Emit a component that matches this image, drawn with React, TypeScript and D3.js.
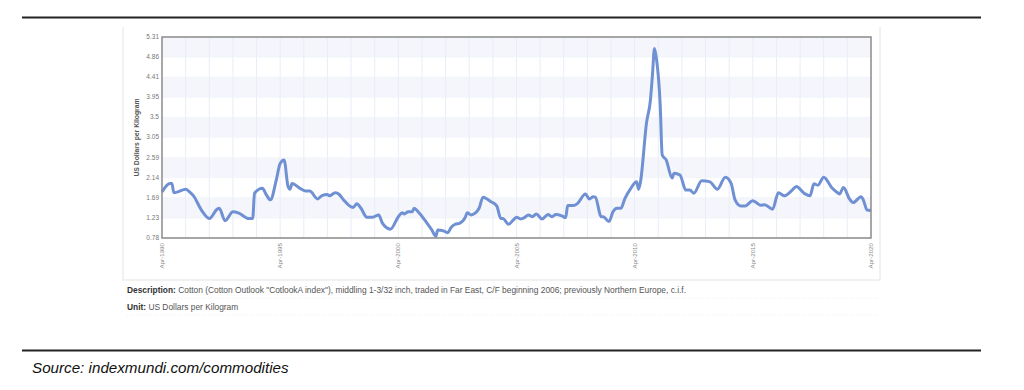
import React from 'react';
import * as d3 from 'd3';

// Cotton A index, US$/kg
const months = [
  '1990-04', '1990-08', '1990-09', '1990-10', '1990-12', '1991-04', '1991-06', '1991-08', '1991-12',
  '1992-04', '1992-08', '1992-09', '1992-12', '1993-04', '1993-07', '1993-12', '1994-02', '1994-03',
  '1994-07', '1994-09', '1994-11', '1995-02', '1995-04', '1995-06', '1995-08', '1995-09', '1995-10',
  '1996-02', '1996-05', '1996-07', '1996-11', '1997-01', '1997-04', '1997-05', '1997-08', '1997-10',
  '1997-12', '1998-05', '1998-07', '1998-09', '1998-12', '1999-03', '1999-06', '1999-08', '1999-12',
  '2000-04', '2000-06', '2000-07', '2000-09', '2000-11', '2000-12', '2001-02', '2001-06', '2001-09',
  '2001-11', '2001-12', '2002-03', '2002-05', '2002-07', '2002-09', '2002-11', '2003-02', '2003-03',
  '2003-05', '2003-07', '2003-09', '2003-11', '2004-01', '2004-03', '2004-06', '2004-08', '2004-09',
  '2004-12', '2005-02', '2005-04', '2005-06', '2005-08', '2005-10', '2005-12', '2006-02', '2006-05',
  '2006-08', '2006-10', '2006-12', '2007-03', '2007-05', '2007-06', '2007-09', '2007-11', '2008-03',
  '2008-05', '2008-07', '2008-08', '2008-11', '2008-12', '2009-03', '2009-05', '2009-07', '2009-09',
  '2009-11', '2010-02', '2010-05', '2010-06', '2010-07', '2010-10', '2010-12', '2011-01', '2011-02',
  '2011-03', '2011-05', '2011-06', '2011-08', '2011-11', '2011-12', '2012-03', '2012-06', '2012-08',
  '2012-10', '2013-02', '2013-06', '2013-10', '2014-02', '2014-05', '2014-07', '2014-10', '2014-12',
  '2015-04', '2015-08', '2015-10', '2016-02', '2016-05', '2016-08', '2016-12', '2017-02', '2017-06',
  '2017-09', '2017-11', '2018-01', '2018-04', '2018-08', '2018-11', '2018-12', '2019-02', '2019-05',
  '2019-07', '2019-11', '2019-12', '2020-02', '2020-04',
];

const prices = [
  1.82, 2.01, 2.01, 1.80, 1.82, 1.88, 1.82, 1.73, 1.41,
  1.22, 1.43, 1.45, 1.17, 1.37, 1.34, 1.22, 1.22, 1.79,
  1.90, 1.75, 1.64, 2.09, 2.46, 2.54, 1.94, 1.88, 2.01,
  1.90, 1.84, 1.84, 1.66, 1.73, 1.76, 1.73, 1.80, 1.76,
  1.65, 1.47, 1.55, 1.45, 1.25, 1.25, 1.30, 1.11, 0.98,
  1.26, 1.35, 1.32, 1.37, 1.37, 1.45, 1.37, 1.15, 0.96,
  0.82, 0.96, 0.94, 0.90, 1.03, 1.09, 1.11, 1.25, 1.35,
  1.30, 1.34, 1.45, 1.70, 1.66, 1.60, 1.50, 1.22, 1.22,
  1.09, 1.17, 1.25, 1.21, 1.24, 1.30, 1.26, 1.32, 1.21,
  1.31, 1.26, 1.31, 1.28, 1.24, 1.51, 1.51, 1.56, 1.77,
  1.66, 1.71, 1.70, 1.26, 1.26, 1.15, 1.37, 1.45, 1.45,
  1.67, 1.90, 2.05, 1.88, 2.05, 3.37, 3.89, 4.45, 5.05,
  4.85, 3.78, 2.65, 2.54, 2.13, 2.24, 2.20, 1.86, 1.86,
  1.79, 2.07, 2.05, 1.88, 2.15, 2.01, 1.64, 1.50, 1.50,
  1.62, 1.52, 1.53, 1.43, 1.80, 1.73, 1.86, 1.94, 1.79,
  1.73, 2.00, 1.97, 2.15, 1.92, 1.80, 1.77, 1.92, 1.67,
  1.58, 1.71, 1.65, 1.41, 1.40,
];

const yTicks = [0.78, 1.23, 1.69, 2.14, 2.59, 3.05, 3.5, 3.95, 4.41, 4.86, 5.31];
const xTickYears = [1990, 1995, 2000, 2005, 2010, 2015, 2020];

const description =
  'Cotton (Cotton Outlook "CotlookA index"), middling 1-3/32 inch, traded in Far East, C/F beginning 2006; previously Northern Europe, c.i.f.';
const unit = 'US Dollars per Kilogram';
const source = 'Source: indexmundi.com/commodities';

const parseMonth = d3.timeParse('%Y-%m');
const data = months.map((m, i) => ({ date: parseMonth(m) as Date, value: prices[i] }));

const W = 1024;
const H = 390;
const plot = { left: 162, right: 871, top: 37, bottom: 238 };

export default function App() {
  const x = d3.scaleTime()
    .domain([new Date(1990, 3, 1), new Date(2020, 3, 1)])
    .range([plot.left, plot.right]);
  const y = d3.scaleLinear()
    .domain([0.78, 5.31])
    .range([plot.bottom, plot.top]);

  const line = d3.line<{ date: Date; value: number }>()
    .x(d => x(d.date))
    .y(d => y(d.value))
    .curve(d3.curveMonotoneX);

  const yearLines = d3.range(1991, 2020).map(yr => x(new Date(yr, 3, 1)));
  const fmt = d3.timeFormat('%b-%Y');
  const font = '"Liberation Sans", Arial, sans-serif';

  return (
    <svg width={W} height={H} style={{ position: 'absolute', left: 0, top: 0 }} fontFamily={font}>
      <rect width={W} height={H} fill="#fff" />
      <line x1={22} x2={981} y1={17.5} y2={17.5} stroke="#222" strokeWidth={2} />

      {/* outer panel frame */}
      <path d="M123,27 V280 H880 V27" fill="none" stroke="#e4e4e4" strokeWidth={1} />

      {/* alternating bands */}
      {yTicks.slice(0, -1).map((t, i) =>
        i % 2 === 1 ? (
          <rect key={t} x={plot.left} width={plot.right - plot.left}
            y={y(yTicks[i + 1])} height={y(t) - y(yTicks[i + 1])} fill="#f4f6fb" />
        ) : null
      )}
      {yearLines.map((gx, i) => (
        <line key={i} x1={gx} x2={gx} y1={plot.top} y2={plot.bottom} stroke="#e8edf8" strokeWidth={1} />
      ))}
      {yTicks.map(t => (
        <line key={t} x1={plot.left} x2={plot.right} y1={y(t)} y2={y(t)} stroke="#eef1f8" strokeWidth={0.6} />
      ))}

      <path d={line(data) ?? ''} fill="none" stroke="#7090d4" strokeWidth={3} strokeLinejoin="round" />

      <rect x={plot.left} y={plot.top} width={plot.right - plot.left} height={plot.bottom - plot.top}
        fill="none" stroke="#8a8a8a" strokeWidth={1.5} />

      {yTicks.map(t => (
        <text key={t} x={plot.left - 3} y={y(t) + 2} textAnchor="end" fontSize={6.5} fill="#777">{t}</text>
      ))}
      <text transform={`translate(139,${(plot.top + plot.bottom) / 2}) rotate(-90)`} textAnchor="middle"
        fontSize={6.8} fontWeight="bold" fill="#555">{unit}</text>

      {xTickYears.map(yr => {
        const d = new Date(yr, 3, 1);
        return (
          <text key={yr} transform={`translate(${x(d) + 2},${plot.bottom + 5}) rotate(-90)`} textAnchor="end"
            fontSize={6.2} fill="#888">{fmt(d)}</text>
        );
      })}

      <text x={127} y={293} fontSize={8.4} fill="#555">
        <tspan fontWeight="bold" fill="#333">Description:</tspan> {description}
      </text>
      <line x1={127} x2={880} y1={298} y2={298} stroke="#eee" strokeDasharray="1,2" />
      <text x={127} y={310} fontSize={8.4} fill="#555">
        <tspan fontWeight="bold" fill="#333">Unit:</tspan> {unit}
      </text>
      <line x1={127} x2={880} y1={315} y2={315} stroke="#eee" strokeDasharray="1,2" />

      <line x1={22} x2={981} y1={350.5} y2={350.5} stroke="#222" strokeWidth={2} />
      <text x={32} y={373} fontSize={15.2} fontStyle="italic" fill="#111">{source}</text>
    </svg>
  );
}
